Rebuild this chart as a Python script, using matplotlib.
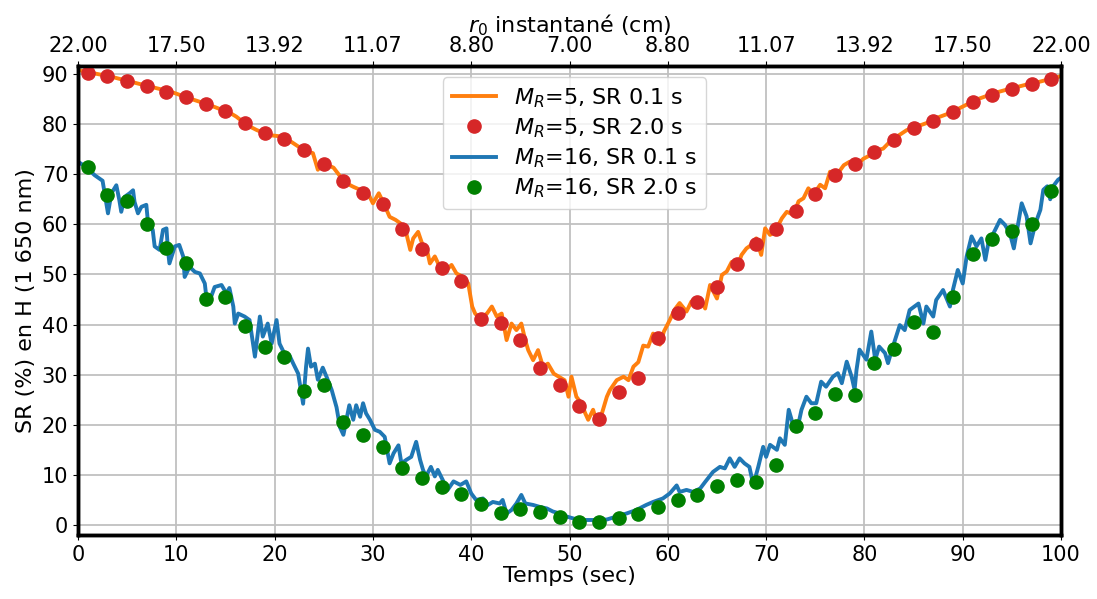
import matplotlib
matplotlib.use('Agg')
import matplotlib.pyplot as plt

# SR 0.1 s, M_R=5 (orange line)
t_o = [0.0, 1.2, 3.3, 5.3, 7.3, 9.4, 11.4, 13.4, 15.5, 16.1, 17.2, 18.2, 19.5, 20.9, 21.9, 22.9,
       23.9, 24.4, 24.9, 26.0, 26.7, 27.3, 28.0, 28.7, 29.5, 30.0, 30.6, 31.1, 31.7, 32.3, 32.8,
       33.4, 33.8, 34.1, 34.6, 35.0, 35.5, 35.8, 36.3, 36.8, 37.5, 38.0, 38.5, 39.2, 39.7, 40.1,
       40.4, 40.9, 41.6, 42.1, 42.6, 43.1, 43.6, 44.1, 44.6, 45.1, 45.5, 45.8, 46.3, 46.8, 47.3,
       47.8, 48.4, 48.9, 49.5, 49.9, 50.2, 50.7, 51.2, 51.6, 51.9, 52.4, 52.8, 53.3, 53.8, 54.1,
       54.8, 55.5, 56.0, 56.5, 57.0, 57.5, 58.0, 58.5, 59.2, 59.6, 60.2, 60.7, 61.2, 61.9, 62.4,
       63.3, 63.8, 64.3, 65.0, 65.5, 66.0, 66.5, 67.0, 67.5, 68.0, 68.5, 69.0, 69.5, 69.9, 70.4,
       70.9, 71.6, 72.1, 72.8, 73.3, 73.8, 74.3, 74.8, 75.5, 76.0, 76.5, 77.2, 77.9, 78.5, 79.2,
       79.9, 80.6, 81.2, 81.9, 82.6, 83.3, 84.3, 85.3, 86.3, 87.3, 88.4, 89.4, 90.4, 91.4, 92.4,
       93.4, 94.5, 95.5, 96.5, 97.5, 98.5, 99.5, 100.0]
sr_o = [90.8, 90.3, 89.5, 88.5, 87.5, 86.5, 85.1, 83.8, 82.2, 81.5, 79.8, 78.8, 77.8, 77.5, 76.2, 74.9,
        74.2, 70.9, 72.3, 71.3, 69.5, 68.2, 67.5, 66.9, 66.2, 64.2, 66.2, 64.2, 61.5, 60.9, 60.2,
        58.2, 54.9, 57.2, 58.5, 56.2, 54.9, 52.2, 53.6, 51.5, 50.9, 51.9, 50.2, 49.5, 48.2, 43.6,
        42.2, 41.2, 42.2, 43.6, 41.6, 42.2, 36.9, 40.2, 38.9, 40.2, 36.9, 34.9, 32.9, 34.9, 31.6,
        32.2, 30.2, 29.6, 28.9, 25.6, 29.6, 25.6, 24.3, 22.3, 21.0, 23.0, 20.4, 22.3, 25.6, 26.9,
        28.9, 29.6, 28.9, 31.6, 32.5, 35.8, 35.6, 38.2, 36.0, 38.6, 40.9, 43.0, 44.3, 42.6, 44.6,
        45.2, 43.2, 47.9, 45.2, 49.9, 50.6, 52.5, 51.2, 53.9, 55.2, 55.9, 57.2, 53.9, 59.2, 57.9,
        58.5, 61.2, 62.5, 61.9, 64.6, 65.2, 67.2, 65.9, 67.9, 67.2, 70.5, 69.9, 71.8, 72.5, 71.8,
        73.1, 73.8, 74.8, 75.1, 76.5, 77.5, 78.8, 79.5, 80.2, 81.2, 82.0, 82.9, 83.9, 84.9, 85.6,
        86.3, 86.9, 87.4, 87.9, 88.3, 88.8, 89.3, 89.6]

# SR 0.1 s, M_R=16 (blue line)
t_b = [0.0, 0.7, 1.7, 2.5, 3.05, 3.4, 3.9, 4.2, 4.4, 4.75, 5.25, 5.6, 5.75, 6.1, 6.45, 6.95, 7.1,
       7.6, 7.8, 8.3, 8.65, 9.0, 9.15, 9.3, 9.85, 10.3, 10.7, 10.85, 11.35, 11.9, 12.4, 12.9, 13.05,
       13.55, 13.9, 14.6, 15.1, 15.4, 15.8, 15.95, 16.3, 16.95, 17.45, 18.0, 18.5, 18.8, 19.3, 19.7,
       20.2, 20.5, 21.0, 21.5, 21.9, 22.4, 22.9, 23.2, 23.4, 23.7, 24.1, 24.4, 24.9, 25.3, 25.8,
       26.3, 26.65, 27.0, 27.3, 27.6, 28.0, 28.3, 28.7, 29.0, 29.3, 29.7, 30.2, 30.7, 31.2, 31.7,
       32.1, 32.6, 32.9, 33.4, 33.9, 34.4, 34.8, 35.1, 35.4, 35.9, 36.3, 36.6, 37.1, 37.6, 38.2,
       38.9, 39.5, 40.0, 40.5, 41.2, 41.7, 42.2, 42.9, 43.2, 43.6, 44.1, 44.6, 45.1, 45.5, 46.3,
       47.0, 47.7, 48.3, 49.0, 49.7, 50.4, 51.1, 51.7, 52.8, 53.8, 54.8, 55.8, 56.8, 57.8, 58.5,
       59.5, 60.2, 60.9, 61.2, 61.9, 62.6, 63.3, 63.8, 64.6, 65.3, 65.8, 66.3, 66.8, 67.3, 67.8,
       68.3, 68.7, 69.2, 69.7, 70.0, 70.4, 71.1, 71.4, 71.9, 72.3, 72.8, 73.3, 73.6, 74.1, 74.6,
       75.1, 75.6, 76.1, 76.8, 77.3, 77.7, 78.2, 78.7, 79.0, 79.2, 79.5, 80.2, 80.7, 81.1, 81.5,
       82.1, 82.4, 82.8, 83.6, 84.1, 84.6, 85.5, 86.0, 86.3, 87.0, 87.3, 88.0, 88.7, 89.0, 89.5,
       90.0, 90.4, 90.9, 91.4, 91.9, 92.3, 92.6, 93.3, 93.8, 94.3, 94.8, 95.2, 95.7, 96.0, 96.5,
       96.9, 97.4, 97.9, 98.2, 98.6, 98.9, 99.2, 99.7, 100.0]
sr_b = [72.5, 71.6, 69.8, 68.7, 62.2, 66.2, 67.8, 64.9, 62.5, 65.5, 66.2, 66.8, 64.5, 62.2, 63.5, 63.9, 60.8,
        58.9, 55.6, 54.9, 58.9, 59.2, 54.9, 52.2, 55.6, 55.9, 53.6, 49.5, 51.5, 50.5, 50.2, 48.2, 45.6,
        45.6, 47.5, 47.9, 46.2, 47.3, 43.6, 40.2, 42.2, 41.6, 40.9, 33.6, 41.6, 37.6, 40.2, 36.2,
        40.9, 36.2, 34.2, 33.9, 32.2, 30.2, 24.2, 31.6, 35.2, 31.6, 32.2, 29.0, 31.4, 29.5, 27.0,
        23.5, 19.5, 18.0, 21.0, 23.9, 21.0, 23.9, 21.6, 24.3, 22.3, 21.0, 19.0, 18.6, 17.6, 12.3,
        14.3, 15.9, 12.3, 13.0, 13.6, 16.6, 13.0, 11.0, 9.7, 11.6, 9.7, 11.0, 9.0, 7.0, 8.7,
        8.0, 8.7, 6.3, 5.0, 5.3, 4.0, 4.6, 4.3, 5.0, 2.3, 3.0, 4.3, 6.0, 4.3, 4.0,
        3.6, 3.3, 2.7, 2.3, 1.7, 1.3, 1.0, 1.0, 1.0, 1.1, 1.7, 2.3, 3.0, 4.0, 4.6,
        5.3, 6.3, 7.9, 6.6, 7.0, 6.6, 7.3, 8.6, 10.6, 11.6, 11.3, 13.3, 11.6, 13.3, 12.3,
        11.6, 8.0, 11.6, 15.6, 13.6, 16.0, 15.0, 17.3, 16.0, 23.0, 19.6, 20.3, 23.0, 25.6, 24.3,
        24.3, 28.6, 27.6, 29.6, 30.3, 28.3, 32.6, 29.6, 27.0, 31.0, 35.0, 33.0, 38.6, 33.0, 35.6,
        34.3, 32.3, 35.0, 39.9, 38.9, 42.9, 44.2, 40.2, 43.6, 41.6, 44.9, 46.9, 43.6, 46.9, 50.9,
        48.2, 53.6, 57.6, 55.6, 57.2, 52.9, 56.2, 58.9, 60.9, 59.9, 58.2, 55.2, 60.9, 64.2, 61.6,
        56.2, 60.2, 62.9, 66.9, 67.6, 65.0, 67.6, 68.9, 69.3]

# SR 2.0 s samples (dots)
t_dots = list(range(1, 100, 2))
sr_dots_5 = [90.3, 89.7, 88.7, 87.6, 86.5, 85.4, 84.1, 82.6, 80.3, 78.3,
             77.0, 74.9, 72.1, 68.7, 66.2, 64.1, 59.1, 55.1, 51.2, 48.6,
             41.1, 40.4, 37.0, 31.4, 28.0, 23.7, 21.2, 26.5, 29.4, 37.3,
             42.4, 44.6, 47.4, 52.0, 56.1, 59.1, 62.7, 66.0, 69.8, 72.0,
             74.4, 76.8, 79.2, 80.7, 82.5, 84.5, 85.9, 87.1, 88.1, 89.1]
sr_dots_16 = [71.4, 65.9, 64.7, 60.1, 55.2, 52.3, 45.2, 45.6, 39.8, 35.5,
              33.5, 26.7, 27.9, 20.5, 18.0, 15.6, 11.3, 9.3, 7.5, 6.1,
              4.1, 2.3, 3.2, 2.5, 1.5, 0.5, 0.6, 1.3, 2.1, 3.6,
              4.9, 5.9, 7.8, 9.0, 8.6, 12.0, 19.8, 22.4, 26.1, 25.9,
              32.3, 35.1, 40.6, 38.6, 45.6, 54.1, 57.1, 58.7, 60.1, 66.7]

top_ticks = list(range(0, 101, 10))
r0_labels = ['22.00', '17.50', '13.92', '11.07', '8.80', '7.00',
             '8.80', '11.07', '13.92', '17.50', '22.00']

plt.rcParams['font.size'] = 16

fig, ax = plt.subplots(figsize=(10.97, 5.99), dpi=100)
fig.subplots_adjust(left=0.0711, right=0.9672, bottom=0.1068, top=0.8898)

ax.plot(t_o, sr_o, color='tab:orange', lw=2.8, label='$M_R$=5, SR 0.1 s', zorder=2)
ax.plot(t_dots, sr_dots_5, 'o', color='tab:red', ms=9.5, label='$M_R$=5, SR 2.0 s', zorder=3)
ax.plot(t_b, sr_b, color='tab:blue', lw=2.8, label='$M_R$=16, SR 0.1 s', zorder=2)
ax.plot(t_dots, sr_dots_16, 'o', color='green', ms=9.5, label='$M_R$=16, SR 2.0 s', zorder=3)

ax.set_xlim(0, 100)
ax.set_ylim(-2, 91.6)
ax.set_xticks(range(0, 101, 10))
ax.set_yticks(range(0, 91, 10))
ax.tick_params(labelsize=15)
ax.set_xlabel('Temps (sec)', labelpad=1)
ax.set_ylabel('SR (%) en H (1 650 nm)')
ax.grid(True, color='#c0c0c0', lw=1.3)
for s in ax.spines.values():
    s.set_linewidth(2.5)

ax2 = ax.twiny()
ax2.set_xlim(ax.get_xlim())
ax2.set_xticks(top_ticks)
ax2.set_xticklabels(r0_labels)
ax2.tick_params(labelsize=15)
ax2.set_xlabel('$r_0$ instantané (cm)', labelpad=3)
for s in ax2.spines.values():
    s.set_linewidth(2.5)

ax.legend(loc='upper center', bbox_to_anchor=(0.505, 1.0), fontsize=16,
          handlelength=2.0, borderpad=0.4, labelspacing=0.3)

plt.savefig('out.png')
